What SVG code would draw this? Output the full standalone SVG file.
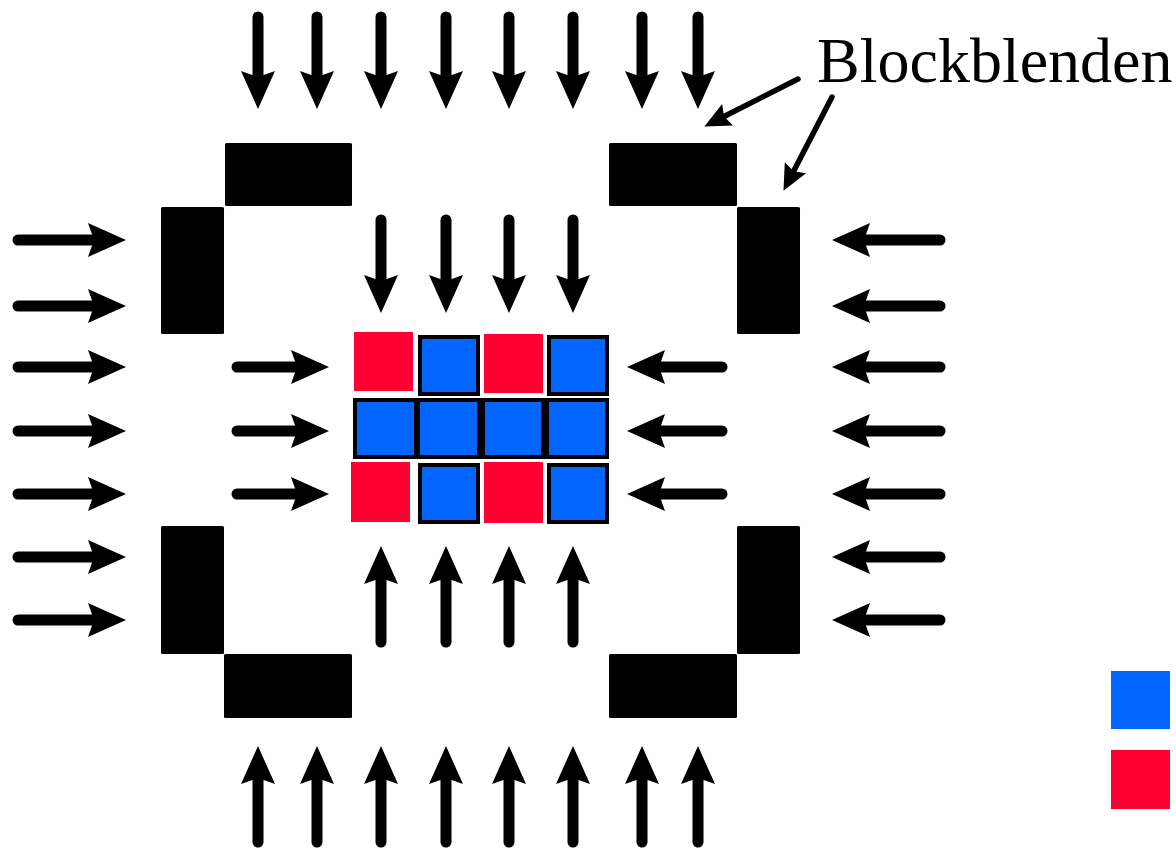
<svg xmlns="http://www.w3.org/2000/svg" width="1176" height="849" viewBox="0 0 1176 849">
  <style>
    .shaft { stroke: #000; stroke-width: 11; stroke-linecap: round; fill: none; marker-end: url(#head); }
    .ptr { stroke: #000; stroke-width: 5.5; stroke-linecap: round; fill: none; marker-end: url(#headSmall); }
    .block { fill: #000; }
    .blue { fill: #0066FF; stroke: #000; stroke-width: 4; }
    .red { fill: #FF0033; }
    .label { font-family: "Liberation Serif", "Times New Roman", serif; font-size: 64px; fill: #000; }
  </style>
  <defs>
    <marker id="head" markerUnits="userSpaceOnUse" orient="auto" refX="5" refY="0" markerWidth="40" markerHeight="36" overflow="visible">
      <path d="M0,-17 L38,0 L0,17 L6,0 Z" fill="#000"/>
    </marker>
    <marker id="headSmall" markerUnits="userSpaceOnUse" orient="auto" refX="4" refY="0" markerWidth="28" markerHeight="24" overflow="visible">
      <path d="M0,-12 L26,0 L0,12 L4,0 Z" fill="#000"/>
    </marker>
  </defs>
  <rect width="1176" height="849" fill="#fff"/>

  <!-- block apertures -->
  <g id="aperture-top-left">
    <rect class="block" x="225" y="143" width="127" height="63" rx="1.5"/>
    <rect class="block" x="161" y="207" width="63" height="127" rx="1.5"/>
  </g>
  <g id="aperture-top-right">
    <rect class="block" x="609" y="143" width="128" height="63" rx="1.5"/>
    <rect class="block" x="737" y="207" width="63" height="127" rx="1.5"/>
  </g>
  <g id="aperture-bottom-left">
    <rect class="block" x="161" y="526" width="63" height="128" rx="1.5"/>
    <rect class="block" x="224" y="654" width="128" height="64" rx="1.5"/>
  </g>
  <g id="aperture-bottom-right">
    <rect class="block" x="737" y="526" width="63" height="128" rx="1.5"/>
    <rect class="block" x="609" y="654" width="128" height="64" rx="1.5"/>
  </g>

  <!-- cell grid -->
  <g id="grid">
    <rect class="red" x="354" y="332" width="59" height="59"/>
    <rect class="blue" x="420" y="337" width="58" height="57"/>
    <rect class="red" x="484" y="334" width="59" height="59"/>
    <rect class="blue" x="549" y="337" width="58" height="57"/>

    <rect class="blue" x="355" y="400" width="61" height="57"/>
    <rect class="blue" x="418" y="400" width="61" height="57"/>
    <rect class="blue" x="483" y="400" width="60" height="57"/>
    <rect class="blue" x="547" y="400" width="60" height="57"/>

    <rect class="red" x="351" y="462" width="59" height="60"/>
    <rect class="blue" x="420" y="465" width="58" height="57"/>
    <rect class="red" x="484" y="462" width="59" height="61"/>
    <rect class="blue" x="549" y="465" width="58" height="57"/>
  </g>

  <!-- legend swatches -->
  <g id="legend">
    <rect x="1111" y="671" width="59" height="58" fill="#0066FF"/>
    <rect x="1111" y="750" width="59" height="59" fill="#FF0033"/>
  </g>

  <!-- label -->
  <g id="label">
    <text class="label" x="817" y="82">Blockblenden</text>
  </g>

  <g id="connectors">
    <!-- outer top row -->
    <line class="shaft" x1="258" y1="17" x2="258" y2="76"/>
    <line class="shaft" x1="317" y1="17" x2="317" y2="76"/>
    <line class="shaft" x1="381" y1="17" x2="381" y2="76"/>
    <line class="shaft" x1="446" y1="17" x2="446" y2="76"/>
    <line class="shaft" x1="509" y1="17" x2="509" y2="76"/>
    <line class="shaft" x1="573" y1="17" x2="573" y2="76"/>
    <line class="shaft" x1="642" y1="17" x2="642" y2="76"/>
    <line class="shaft" x1="698" y1="17" x2="698" y2="76"/>
    <!-- outer bottom row -->
    <line class="shaft" x1="258" y1="842" x2="258" y2="779"/>
    <line class="shaft" x1="317" y1="842" x2="317" y2="779"/>
    <line class="shaft" x1="381" y1="842" x2="381" y2="779"/>
    <line class="shaft" x1="446" y1="842" x2="446" y2="779"/>
    <line class="shaft" x1="509" y1="842" x2="509" y2="779"/>
    <line class="shaft" x1="573" y1="842" x2="573" y2="779"/>
    <line class="shaft" x1="642" y1="842" x2="642" y2="779"/>
    <line class="shaft" x1="698" y1="842" x2="698" y2="779"/>
    <!-- outer left column -->
    <line class="shaft" x1="18" y1="240" x2="93" y2="240"/>
    <line class="shaft" x1="18" y1="306" x2="93" y2="306"/>
    <line class="shaft" x1="18" y1="367" x2="93" y2="367"/>
    <line class="shaft" x1="18" y1="431" x2="93" y2="431"/>
    <line class="shaft" x1="18" y1="494" x2="93" y2="494"/>
    <line class="shaft" x1="18" y1="557" x2="93" y2="557"/>
    <line class="shaft" x1="18" y1="620" x2="93" y2="620"/>
    <!-- outer right column -->
    <line class="shaft" x1="940" y1="240" x2="865" y2="240"/>
    <line class="shaft" x1="940" y1="306" x2="865" y2="306"/>
    <line class="shaft" x1="940" y1="367" x2="865" y2="367"/>
    <line class="shaft" x1="940" y1="431" x2="865" y2="431"/>
    <line class="shaft" x1="940" y1="494" x2="865" y2="494"/>
    <line class="shaft" x1="940" y1="557" x2="865" y2="557"/>
    <line class="shaft" x1="940" y1="620" x2="865" y2="620"/>
    <!-- inner top -->
    <line class="shaft" x1="381" y1="220" x2="381" y2="280"/>
    <line class="shaft" x1="446" y1="220" x2="446" y2="280"/>
    <line class="shaft" x1="509" y1="220" x2="509" y2="280"/>
    <line class="shaft" x1="573" y1="220" x2="573" y2="280"/>
    <!-- inner bottom -->
    <line class="shaft" x1="381" y1="642" x2="381" y2="579"/>
    <line class="shaft" x1="446" y1="642" x2="446" y2="579"/>
    <line class="shaft" x1="509" y1="642" x2="509" y2="579"/>
    <line class="shaft" x1="573" y1="642" x2="573" y2="579"/>
    <!-- inner left -->
    <line class="shaft" x1="237" y1="367" x2="296" y2="367"/>
    <line class="shaft" x1="237" y1="431" x2="296" y2="431"/>
    <line class="shaft" x1="237" y1="494" x2="296" y2="494"/>
    <!-- inner right -->
    <line class="shaft" x1="722" y1="367" x2="660" y2="367"/>
    <line class="shaft" x1="722" y1="431" x2="660" y2="431"/>
    <line class="shaft" x1="722" y1="494" x2="660" y2="494"/>
    <!-- label pointers -->
    <line class="ptr" x1="798" y1="79" x2="724" y2="116.5"/>
    <line class="ptr" x1="832" y1="97" x2="793.6" y2="171.3"/>
  </g>
</svg>
